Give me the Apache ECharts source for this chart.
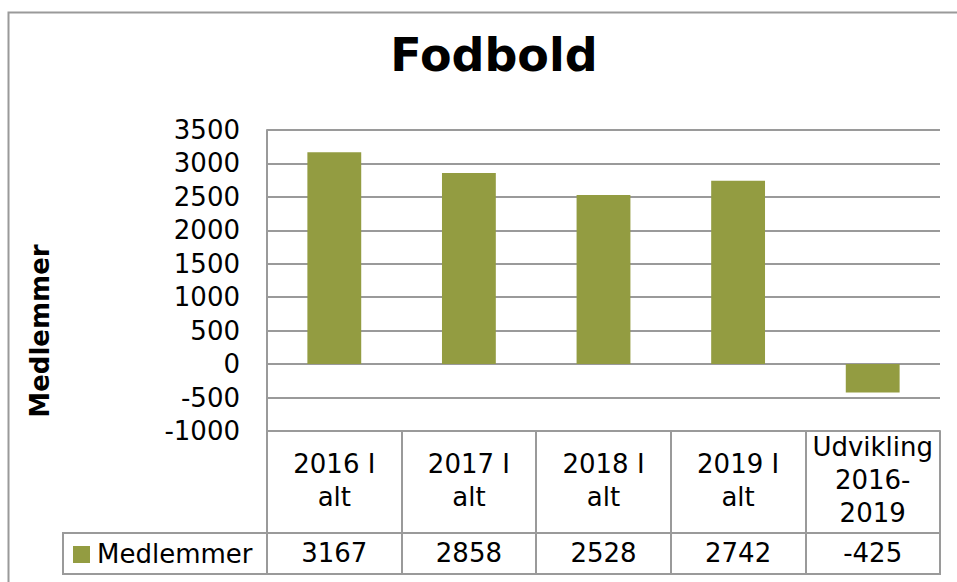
<!DOCTYPE html>
<html>
<head>
<meta charset="utf-8">
<title>Fodbold</title>
<script src="https://cdn.jsdelivr.net/npm/echarts@6/dist/echarts.min.js"></script>
<style>
  html, body { margin: 0; padding: 0; background: #fff; }
  #chart { width: 957px; height: 582px; }
</style>
</head>
<body>
<div id="chart"></div>
<script>
// data
const categories = ['2016 I\nalt', '2017 I\nalt', '2018 I\nalt', '2019 I\nalt', 'Udvikling\n2016-\n2019'];
const medlemmer = [3167, 2858, 2528, 2742, -425];
const seriesName = 'Medlemmer';
const yMin = -1000;
const yMax = 3500;
const yStep = 500;

// styles
const FONT = '"DejaVu Sans", Verdana, sans-serif';
const BAR_COLOR = '#939c41';
const LINE_COLOR = '#9a9a9a';

const chart = echarts.init(document.getElementById('chart'), null, { renderer: 'svg' });

const line = { lineStyle: { color: LINE_COLOR, width: 2 } };

chart.setOption({
  backgroundColor: '#fff',
  animation: false,
  title: {
    text: 'Fodbold',
    left: 489,
    top: 27,
    textAlign: 'center',
    textStyle: { fontFamily: FONT, fontSize: 46, fontWeight: 'bold', color: '#000' },
  },
  grid: { left: 267, right: 17, top: 130, bottom: 151 },
  xAxis: [
    {
      type: 'category',
      data: categories,
      position: 'bottom',
      axisLine: { show: true, onZero: false, ...line },
      axisTick: { show: true, interval: 0, length: 102, ...line },
      axisLabel: {
        interval: 0,
        margin: 49,
        verticalAlign: 'middle',
        fontFamily: FONT,
        fontSize: 26,
        lineHeight: 33,
        color: '#000',
      },
    },
    {
      // data table row with the values
      type: 'category',
      data: medlemmer.map(String),
      position: 'bottom',
      offset: 102,
      axisLine: { show: true, onZero: false, ...line },
      axisTick: { show: true, interval: 0, length: 41, ...line },
      axisLabel: {
        interval: 0,
        margin: 20,
        verticalAlign: 'middle',
        fontFamily: FONT,
        fontSize: 26,
        color: '#000',
      },
    },
  ],
  yAxis: {
    type: 'value',
    min: yMin,
    max: yMax,
    interval: yStep,
    axisLine: { show: true, ...line },
    axisTick: { show: false },
    splitLine: { show: true, ...line },
    axisLabel: {
      margin: 27,
      fontFamily: FONT,
      fontSize: 26,
      color: '#000',
      formatter: (v) => String(v),
    },
  },
  series: [
    {
      name: seriesName,
      type: 'bar',
      xAxisIndex: 0,
      data: medlemmer,
      barWidth: '40%',
      itemStyle: { color: BAR_COLOR },
    },
  ],
  graphic: [
    // outer chart border
    {
      type: 'rect',
      shape: { x: 8.5, y: 12.5, width: 1000, height: 700 },
      style: { fill: 'none', stroke: LINE_COLOR, lineWidth: 2 },
      silent: true,
    },
    // value row box incl. legend cell
    {
      type: 'rect',
      shape: { x: 63, y: 533, width: 877, height: 41 },
      style: { fill: 'none', stroke: LINE_COLOR, lineWidth: 2 },
      silent: true,
    },
    {
      type: 'rect',
      shape: { x: 73, y: 546, width: 17, height: 17 },
      style: { fill: BAR_COLOR },
      silent: true,
    },
    {
      type: 'text',
      x: 97,
      y: 554,
      style: {
        text: seriesName,
        font: '26px ' + FONT,
        fill: '#000',
        textVerticalAlign: 'middle',
      },
      silent: true,
    },
    // y axis name
    {
      type: 'text',
      x: 40,
      y: 331,
      rotation: Math.PI / 2,
      style: {
        text: 'Medlemmer',
        font: 'bold 26px ' + FONT,
        fill: '#000',
        textAlign: 'center',
        textVerticalAlign: 'middle',
      },
      silent: true,
    },
  ],
});
</script>
</body>
</html>
